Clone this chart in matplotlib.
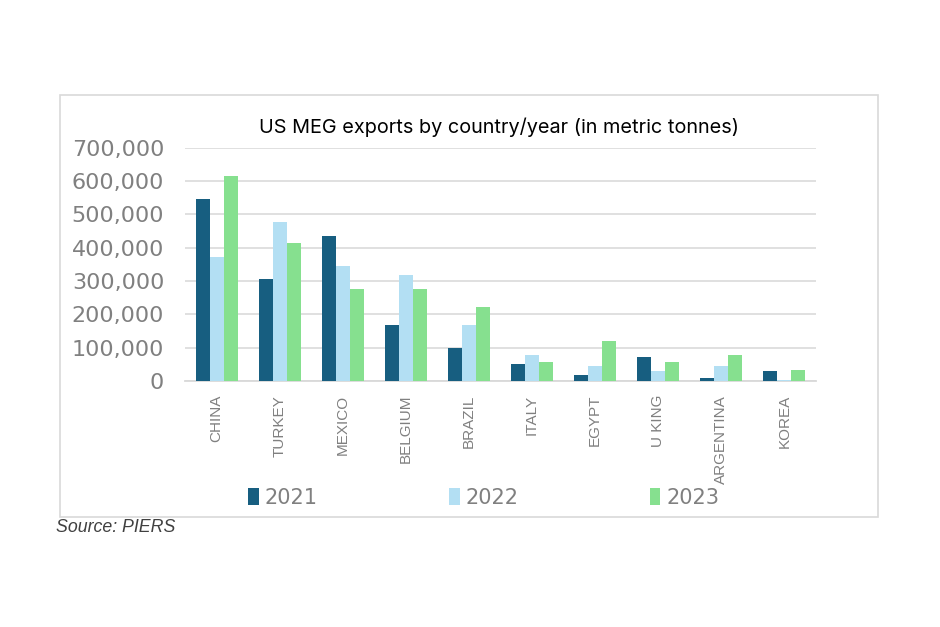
import numpy as np
import matplotlib
matplotlib.use("Agg")
import matplotlib.pyplot as plt
from matplotlib.patches import Rectangle
from matplotlib.ticker import FuncFormatter

# data (metric tonnes)
countries = ["CHINA", "TURKEY", "MEXICO", "BELGIUM", "BRAZIL",
             "ITALY", "EGYPT", "U KING", "ARGENTINA", "KOREA"]
years = ["2021", "2022", "2023"]
exports_2021 = [547000, 307000, 436000, 168000, 100000, 51000, 18000, 72000, 9000, 29000]
exports_2022 = [372000, 478000, 345000, 318000, 168000, 77000, 45000, 29000, 45000, 4000]
exports_2023 = [616000, 414000, 275000, 275000, 221000, 56000, 121000, 56000, 77000, 34000]

colors = ["#175E80", "#B3DFF3", "#86E08F"]
series = [exports_2021, exports_2022, exports_2023]

fig = plt.figure(figsize=(9.4, 6.27), dpi=100)

# light grey frame round the chart
fig.patches.append(Rectangle((60 / 940, 1 - 517 / 627), 818 / 940, 422 / 627,
                             transform=fig.transFigure, fill=False,
                             edgecolor="#D9D9D9", linewidth=1.2))

ax = fig.add_axes([185 / 940, 1 - 381 / 627, 631 / 940, 233.5 / 627])

x = np.arange(len(countries))
bar_w = 0.222
bars = []
for i, (vals, c, yr) in enumerate(zip(series, colors, years)):
    b = ax.bar(x + (i - 1) * bar_w, vals, width=bar_w, color=c, label=yr, zorder=3)
    bars.append(b)

ax.set_xlim(-0.5, len(countries) - 0.5)
ax.set_ylim(0, 700000)
ax.set_yticks(np.arange(0, 700001, 100000))
ax.yaxis.set_major_formatter(FuncFormatter(lambda v, p: f"{int(v):,}"))
ax.grid(axis="y", color="#DDDDDD", linewidth=1.3, zorder=0)
for s in ["top", "right", "left"]:
    ax.spines[s].set_visible(False)
ax.spines["bottom"].set_color("#D9D9D9")
ax.spines["bottom"].set_linewidth(1.3)
ax.tick_params(axis="y", length=0, pad=15, labelsize=16, labelcolor="#808080")
ax.tick_params(axis="x", length=0, pad=10)
ax.set_xticks(x)
ax.set_xticklabels(countries, rotation=90, fontsize=11, color="#808080",
                   family="Liberation Sans", va="top")

fig.text(499 / 940, 1 - 127 / 627, "US MEG exports by country/year (in metric tonnes)",
         ha="center", va="center", fontsize=14.3, family="Inter", color="black")

fig.legend(handles=bars, labels=years, loc="center", ncol=3,
           bbox_to_anchor=(484 / 940, 1 - 498 / 627), frameon=False,
           fontsize=15, labelcolor="#808080", handlelength=0.5, handleheight=0.9,
           handletextpad=0.3, columnspacing=6.3)

fig.text(56 / 940, 1 - 528 / 627, "Source: PIERS", ha="left", va="center",
         fontsize=12.8, style="italic", family="Liberation Sans", color="#404040")

fig.savefig("out.png", dpi=100)
